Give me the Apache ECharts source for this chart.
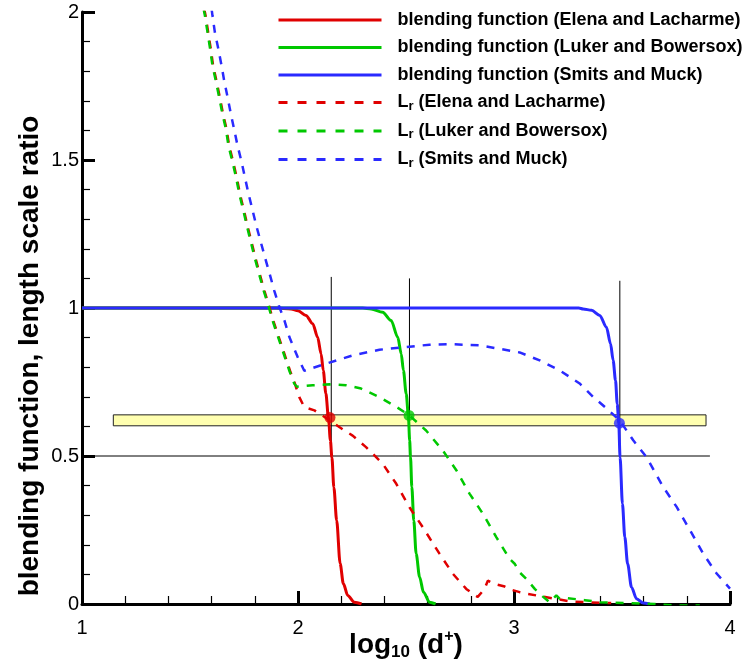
<!DOCTYPE html>
<html>
<head>
<meta charset="utf-8">
<title>Blending functions and length scale ratios</title>
<script src="https://cdn.jsdelivr.net/npm/echarts@6/dist/echarts.min.js"></script>
<style>
  html, body { margin: 0; padding: 0; background: #ffffff; }
  #chart { width: 743px; height: 665px; }
</style>
</head>
<body>
<div id="chart"></div>
<script>
// ---- data: log10(d+) abscissae and ordinates for each curve ----
const blendEL_x = [1.0, 1.5, 1.9, 1.968, 2.0, 2.037, 2.068, 2.091, 2.107, 2.117, 2.129, 2.141, 2.150, 2.157, 2.166, 2.179, 2.195, 2.210, 2.230, 2.261, 2.294];
const blendEL_y = [1.0, 1.0, 1.0, 0.997, 0.991, 0.975, 0.947, 0.901, 0.845, 0.789, 0.711, 0.630, 0.552, 0.495, 0.394, 0.282, 0.137, 0.069, 0.029, 0.006, 0.0];

const blendLB_x = [1.0, 2.3, 2.339, 2.392, 2.431, 2.462, 2.478, 2.488, 2.501, 2.511, 2.517, 2.521, 2.527, 2.536, 2.547, 2.563, 2.581, 2.609, 2.637];
const blendLB_y = [1.0, 1.0, 0.997, 0.986, 0.958, 0.901, 0.845, 0.789, 0.710, 0.637, 0.552, 0.496, 0.395, 0.282, 0.170, 0.091, 0.040, 0.006, 0.0];

const blendSM_x = [1.0, 3.3, 3.320, 3.359, 3.397, 3.428, 3.447, 3.459, 3.470, 3.478, 3.485, 3.491, 3.502, 3.513, 3.526, 3.544, 3.567, 3.598, 3.629];
const blendSM_y = [1.0, 1.0, 0.997, 0.992, 0.975, 0.935, 0.879, 0.823, 0.755, 0.676, 0.610, 0.496, 0.339, 0.226, 0.136, 0.057, 0.018, 0.003, 0.0];

const lrEL_x = [1.566, 1.572, 1.584, 1.596, 1.607, 1.622, 1.638, 1.653, 1.669, 1.681, 1.700, 1.716, 1.731, 1.750, 1.767, 1.785, 1.804, 1.824, 1.844, 1.867, 1.885, 1.932, 1.963, 1.986, 2.006, 2.029, 2.076, 2.107, 2.215, 2.253, 2.315, 2.392, 2.455, 2.516, 2.578, 2.655, 2.717, 2.779, 2.810, 2.832, 2.864, 2.879, 2.910, 2.957, 2.988, 3.026, 3.065, 3.188, 3.267, 3.335, 3.412, 3.450];
const lrEL_y = [2.01, 1.988, 1.932, 1.876, 1.819, 1.769, 1.712, 1.656, 1.605, 1.549, 1.493, 1.442, 1.386, 1.329, 1.275, 1.222, 1.166, 1.112, 1.059, 1.005, 0.958, 0.856, 0.788, 0.744, 0.699, 0.665, 0.654, 0.640, 0.586, 0.569, 0.530, 0.474, 0.406, 0.327, 0.259, 0.170, 0.102, 0.051, 0.034, 0.024, 0.051, 0.079, 0.068, 0.059, 0.048, 0.040, 0.034, 0.018, 0.008, 0.006, 0.004, 0.003];

const lrLB_x = [1.563, 1.569, 1.581, 1.593, 1.604, 1.619, 1.635, 1.650, 1.666, 1.678, 1.697, 1.713, 1.728, 1.747, 1.764, 1.782, 1.801, 1.821, 1.841, 1.864, 1.882, 1.929, 1.960, 1.983, 1.995, 2.068, 2.145, 2.222, 2.292, 2.377, 2.455, 2.516, 2.593, 2.671, 2.733, 2.794, 2.856, 2.918, 2.980, 3.003, 3.026, 3.057, 3.096, 3.127, 3.165, 3.196, 3.211, 3.244, 3.328, 3.397, 3.457, 3.536, 3.65, 3.75, 3.86];
const lrLB_y = [2.01, 1.988, 1.932, 1.876, 1.819, 1.769, 1.712, 1.656, 1.605, 1.549, 1.493, 1.442, 1.386, 1.329, 1.275, 1.222, 1.166, 1.112, 1.059, 1.005, 0.958, 0.856, 0.788, 0.744, 0.734, 0.739, 0.742, 0.739, 0.728, 0.699, 0.666, 0.637, 0.586, 0.518, 0.452, 0.373, 0.305, 0.226, 0.152, 0.136, 0.107, 0.085, 0.051, 0.029, 0.006, 0.029, 0.018, 0.020, 0.013, 0.006, 0.004, 0.003, 0.0, -0.005, -0.005];

const lrSM_x = [1.600, 1.604, 1.615, 1.631, 1.646, 1.658, 1.674, 1.689, 1.704, 1.720, 1.739, 1.754, 1.771, 1.790, 1.808, 1.828, 1.849, 1.870, 1.890, 1.913, 1.937, 1.960, 1.998, 2.029, 2.130, 2.253, 2.377, 2.470, 2.609, 2.700, 2.841, 3.026, 3.119, 3.212, 3.304, 3.366, 3.428, 3.490, 3.552, 3.614, 3.691, 3.753, 3.815, 3.876, 3.938, 4.0];
const lrSM_y = [2.01, 1.988, 1.932, 1.876, 1.819, 1.769, 1.712, 1.656, 1.605, 1.549, 1.493, 1.442, 1.386, 1.329, 1.275, 1.222, 1.166, 1.112, 1.059, 1.005, 0.958, 0.902, 0.835, 0.788, 0.812, 0.840, 0.859, 0.866, 0.876, 0.878, 0.874, 0.850, 0.823, 0.789, 0.745, 0.700, 0.661, 0.620, 0.553, 0.496, 0.395, 0.328, 0.249, 0.170, 0.103, 0.052];

// crossing points of the blending functions
const crossX = [2.148, 2.514, 3.488];
const crossY = [0.630, 0.637, 0.611];

// vertical guides down to the 0.5 level, and the 0.5 reference line
const guideX = [2.154, 2.516, 3.490];
const guideTop = [1.105, 1.100, 1.092];
const guideBottom = 0.5;
const halfLineX = [1.0, 3.907];

// shaded band around the crossing level
const bandX = [1.145, 3.889];
const bandY = [0.602, 0.639];

// axis ranges / tick spacing
const xRange = [1, 4], xStep = 1;
const yRange = [0, 2], yStep = 0.5;

// ---- styling ----
const RED = '#e00000', GREEN = '#00c800', BLUE = '#2a2aff';
const FONT = 'Liberation Sans';
const DASH = [8, 8];
const LEGEND_DASH = [9, 10];

const zip = (xs, ys) => xs.map((x, i) => [x, ys[i]]);

const names = [
  'blending function (Elena and Lacharme)',
  'blending function (Luker and Bowersox)',
  'blending function (Smits and Muck)',
  'Lr (Elena and Lacharme)',
  'Lr (Luker and Bowersox)',
  'Lr (Smits and Muck)'
];

function solid(name, xs, ys, color) {
  return {
    name, type: 'line', data: zip(xs, ys), symbol: 'none', z: 3,
    smooth: 0.3, smoothMonotone: 'x', silent: true,
    lineStyle: { color, width: 3 }, itemStyle: { color }
  };
}
function dashed(name, xs, ys, color) {
  return {
    name, type: 'line', data: zip(xs, ys), symbol: 'none', z: 4, silent: true,
    lineStyle: { color, width: 2.5, type: DASH, cap: 'butt' }, itemStyle: { color }
  };
}

const guideSeries = guideX.map((x, i) => ({
  type: 'line', data: [[x, guideTop[i]], [x, guideBottom]], symbol: 'none', z: 2, silent: true,
  lineStyle: { color: '#000', width: 1 }
}));

const chart = echarts.init(document.getElementById('chart'), null, { renderer: 'canvas' });

const axisCommon = {
  type: 'value',
  nameMoveOverlap: false,
  axisLine: { show: true, onZero: false, lineStyle: { color: '#000', width: 3 } },
  axisTick: { show: true, inside: true, length: 13, lineStyle: { color: '#000', width: 3 } },
  minorTick: { show: true, splitNumber: 5, length: 8, lineStyle: { color: '#000', width: 1.2 } },
  splitLine: { show: false },
  minorSplitLine: { show: false },
  axisLabel: { color: '#000', fontSize: 20, fontFamily: FONT }
};

const boldRich = (size, extra) => Object.assign({ fontFamily: FONT, fontWeight: 'bold', color: '#000', fontSize: size }, extra);

chart.setOption({
  animation: false,
  backgroundColor: '#ffffff',
  grid: { left: 82, right: 13, top: 12, bottom: 61, outerBoundsMode: 'none', containLabel: false },
  xAxis: Object.assign({}, axisCommon, {
    min: xRange[0], max: xRange[1], interval: xStep,
    axisLabel: Object.assign({}, axisCommon.axisLabel, { margin: 14 }),
    name: '{m|log}{s|10}{m| (d}{p|+}{m|)}',
    nameLocation: 'middle',
    nameGap: 25,
    nameTextStyle: {
      fontFamily: FONT, fontWeight: 'bold', fontSize: 28, color: '#000',
      rich: {
        m: boldRich(28, { lineHeight: 32 }),
        s: boldRich(17, { lineHeight: 2, verticalAlign: 'bottom' }),
        p: boldRich(16, { lineHeight: 18, verticalAlign: 'top' })
      }
    }
  }),
  yAxis: Object.assign({}, axisCommon, {
    min: yRange[0], max: yRange[1], interval: yStep,
    axisLabel: Object.assign({}, axisCommon.axisLabel, { margin: 3 }),
    name: 'blending function, length scale ratio',
    nameLocation: 'middle',
    nameGap: 38,
    nameRotate: 90,
    nameTextStyle: {
      fontFamily: FONT, fontWeight: 'bold', fontSize: 28, lineHeight: 28, color: '#000',
      padding: [0, 96, 0, 0]
    }
  }),
  legend: {
    orient: 'vertical',
    left: 277, top: 11,
    padding: 0,
    itemWidth: 103, itemHeight: 14, itemGap: 9.5,
    selectedMode: false,
    itemStyle: { opacity: 0 },
    lineStyle: { width: 3 },
    data: names.map((n, i) => i < 3 ? { name: n } : { name: n, lineStyle: { type: LEGEND_DASH, width: 3 } }),
    formatter: n => n.startsWith('Lr ')
      ? '{m|L}{s|r}{m|' + n.slice(2) + '}'
      : '{m|' + n + '}',
    textStyle: {
      fontFamily: FONT, fontWeight: 'bold', fontSize: 18, color: '#000',
      padding: [0, 0, 0, 11],
      rich: {
        m: boldRich(18, { lineHeight: 20 }),
        s: boldRich(13, { lineHeight: 8, verticalAlign: 'bottom' })
      }
    }
  },
  series: [
    {
      type: 'line', data: [], silent: true, z: 1,
      markArea: {
        silent: true,
        itemStyle: { color: '#ffffb0', borderColor: '#222', borderWidth: 1 },
        data: [[{ coord: [bandX[0], bandY[0]] }, { coord: [bandX[1], bandY[1]] }]]
      }
    },
    {
      type: 'line', data: [[halfLineX[0], guideBottom], [halfLineX[1], guideBottom]],
      symbol: 'none', z: 2, silent: true, lineStyle: { color: '#000', width: 1 }
    },
    ...guideSeries,
    solid(names[0], blendEL_x, blendEL_y, RED),
    solid(names[1], blendLB_x, blendLB_y, GREEN),
    solid(names[2], blendSM_x, blendSM_y, BLUE),
    dashed(names[3], lrEL_x, lrEL_y, RED),
    dashed(names[4], lrLB_x, lrLB_y, GREEN),
    dashed(names[5], lrSM_x, lrSM_y, BLUE),
    {
      type: 'scatter', z: 6, silent: true, symbol: 'circle', symbolSize: 11,
      data: crossX.map((x, i) => ({ value: [x, crossY[i]], itemStyle: { color: [RED, GREEN, BLUE][i] } }))
    }
  ]
});
</script>
</body>
</html>
